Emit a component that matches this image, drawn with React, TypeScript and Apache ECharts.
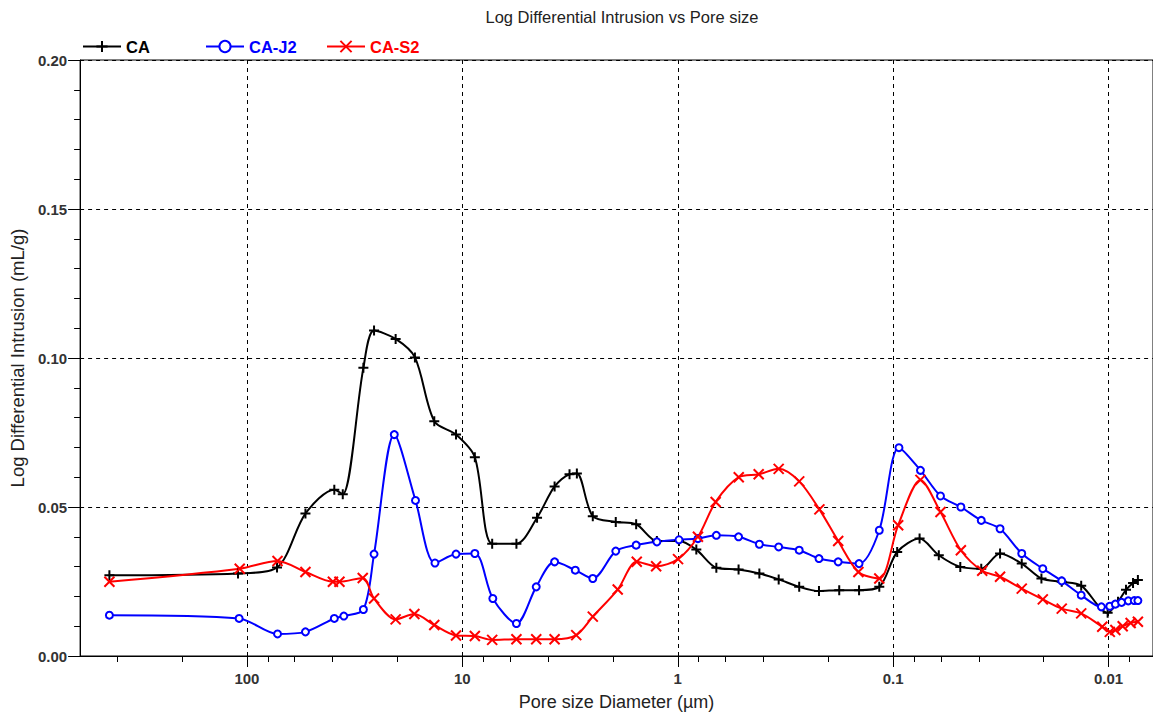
import React, { useEffect, useRef } from "react";
import * as echarts from "echarts";

// Pore size diameter (µm) and log differential intrusion (mL/g)
const caX = [435, 110, 72.5, 53.5, 39.3, 35.9, 28.8, 25.7, 20.4, 16.6, 13.5, 10.7, 8.75, 7.27, 5.61, 4.5, 3.73, 3.18, 2.94, 2.48, 1.94, 1.56, 1.25, 0.987, 0.82, 0.662, 0.522, 0.418, 0.34, 0.273, 0.221, 0.178, 0.144, 0.116, 0.0958, 0.0754, 0.0614, 0.0488, 0.039, 0.0319, 0.0253, 0.0205, 0.0165, 0.0134, 0.0101, 0.00904, 0.0083, 0.0077, 0.00731];
const caY = [0.0271, 0.0277, 0.0297, 0.0478, 0.0558, 0.0543, 0.0967, 0.1092, 0.1064, 0.1002, 0.0788, 0.0743, 0.0667, 0.0377, 0.0377, 0.0464, 0.0569, 0.061, 0.0612, 0.0469, 0.045, 0.0442, 0.0386, 0.0386, 0.0357, 0.0296, 0.029, 0.0277, 0.0257, 0.0232, 0.0218, 0.0221, 0.0221, 0.0232, 0.0349, 0.0394, 0.0338, 0.0299, 0.0293, 0.0344, 0.031, 0.026, 0.0249, 0.0236, 0.0145, 0.0182, 0.0222, 0.0245, 0.0255];

const j2X = [435, 108.7, 72.1, 53.5, 39.3, 35.5, 28.8, 25.7, 20.7, 16.5, 13.4, 10.7, 8.75, 7.22, 5.61, 4.54, 3.73, 2.99, 2.48, 1.94, 1.56, 1.25, 0.987, 0.806, 0.662, 0.522, 0.418, 0.34, 0.273, 0.221, 0.18, 0.144, 0.116, 0.094, 0.0747, 0.0603, 0.0485, 0.039, 0.0319, 0.0253, 0.0202, 0.0165, 0.0134, 0.0108, 0.00987, 0.0093, 0.0087, 0.0081, 0.0076, 0.00731];
const j2Y = [0.0137, 0.0126, 0.0074, 0.0081, 0.0126, 0.0134, 0.0156, 0.0342, 0.0743, 0.0522, 0.0312, 0.0342, 0.0344, 0.0193, 0.0109, 0.0232, 0.0316, 0.0288, 0.026, 0.0352, 0.0372, 0.0383, 0.039, 0.0394, 0.0405, 0.04, 0.0375, 0.0366, 0.0355, 0.0327, 0.0316, 0.031, 0.0422, 0.0699, 0.0623, 0.0537, 0.05, 0.0455, 0.0427, 0.0344, 0.0293, 0.0252, 0.0204, 0.0165, 0.0167, 0.0174, 0.018, 0.0185, 0.0186, 0.0186];

const s2X = [435, 108, 72.1, 53.5, 39.9, 37.2, 29.0, 25.7, 20.4, 16.7, 13.5, 10.7, 8.75, 7.27, 5.61, 4.54, 3.73, 2.96, 2.48, 1.9, 1.55, 1.26, 0.997, 0.806, 0.667, 0.521, 0.421, 0.34, 0.273, 0.22, 0.18, 0.145, 0.116, 0.0948, 0.0747, 0.0603, 0.0485, 0.0386, 0.0319, 0.0253, 0.0202, 0.0165, 0.0134, 0.0107, 0.00987, 0.0093, 0.0086, 0.0079, 0.00731];
const s2Y = [0.0249, 0.0293, 0.0319, 0.0282, 0.0249, 0.0249, 0.0262, 0.0193, 0.0123, 0.0141, 0.0104, 0.0069, 0.0067, 0.0054, 0.0056, 0.0056, 0.0056, 0.007, 0.0132, 0.0223, 0.0316, 0.0301, 0.0325, 0.04, 0.0517, 0.06, 0.061, 0.0628, 0.0586, 0.0492, 0.0386, 0.0282, 0.026, 0.0439, 0.0591, 0.0483, 0.0355, 0.0286, 0.0266, 0.0226, 0.019, 0.0159, 0.0143, 0.0098, 0.0081, 0.0087, 0.01, 0.0111, 0.0115];

const seriesNames = ["CA", "CA-J2", "CA-S2"];
const seriesColors = ["#000000", "#0000ff", "#ff0000"];
const xMinorTicks = [400, 200, 80, 60, 40, 20, 8, 6, 4, 2, 0.8, 0.6, 0.4, 0.2, 0.08, 0.06, 0.04, 0.02, 0.008];
const xMin = 0.00622;
const xMax = 595;
const yMax = 0.2;
const yInterval = 0.05;

const FONT = "'Liberation Sans', Arial, sans-serif";

const plusPath = "path://M5,0L5,10M0,5L10,5";
const crossPath = "path://M0,0L10,10M10,0L0,10";

const zip = (xs: number[], ys: number[]) => xs.map((x, i) => [x, ys[i]]);

const legendLefts = [77, 200, 321];

export default function App() {
  const ref = useRef<HTMLDivElement>(null);
  useEffect(() => {
    if (!ref.current) return;
    const chart = echarts.init(ref.current, null, { renderer: "svg" });
    const fmtX = (v: number) => String(+Number(v).toPrecision(2));
    chart.setOption({
      animation: false,
      backgroundColor: "#ffffff",
      title: {
        text: "Log Differential Intrusion vs Pore size",
        left: 617,
        top: 3,
        textAlign: "center",
        textStyle: { fontFamily: FONT, fontSize: 16.5, fontWeight: "normal", color: "#222" },
      },
      legend: seriesNames.map((n, i) => ({
        left: legendLefts[i],
        top: 33,
        itemWidth: 38,
        itemHeight: 14,
        textStyle: { fontFamily: FONT, fontSize: 16.5, fontWeight: "bold" },
        data: [{ name: n, textStyle: { color: seriesColors[i] } }],
      })),
      grid: {
        left: 78,
        top: 60,
        right: -2,
        bottom: 57,
        show: true,
        borderColor: "#000",
        borderWidth: 1,
        containLabel: false,
      },
      xAxis: [
        {
          type: "log",
          logBase: 10,
          inverse: true,
          min: xMin,
          max: xMax,
          name: "Pore size Diameter (µm)",
          nameLocation: "middle",
          nameGap: 37,
          nameTextStyle: { fontFamily: FONT, fontSize: 18, color: "#222" },
          axisLine: { lineStyle: { color: "#000", width: 1 } },
          axisTick: { length: 11, lineStyle: { color: "#000" } },
          axisLabel: {
            fontFamily: FONT,
            fontSize: 15,
            fontWeight: "bold",
            color: "#333",
            margin: 15,
            showMinLabel: false,
            showMaxLabel: false,
            formatter: fmtX,
          },
          splitLine: { show: true, lineStyle: { color: "#000", type: [4, 4], width: 1 } },
        },
        {
          type: "log",
          logBase: 10,
          inverse: true,
          min: xMin,
          max: xMax,
          position: "bottom",
          axisLine: { show: false },
          axisTick: { show: true, length: 6, customValues: xMinorTicks, lineStyle: { color: "#000" } },
          axisLabel: { show: false },
          splitLine: { show: false },
        },
      ],
      yAxis: {
        type: "value",
        min: 0,
        max: yMax,
        interval: yInterval,
        name: "Log Differential Intrusion (mL/g)",
        nameLocation: "middle",
        nameGap: 49,
        nameTextStyle: { fontFamily: FONT, fontSize: 18.5, color: "#222" },
        axisLine: { show: true, lineStyle: { color: "#000", width: 1 } },
        axisTick: { show: true, length: 12, lineStyle: { color: "#000" } },
        minorTick: { show: true, splitNumber: 5, length: 6, lineStyle: { color: "#000" } },
        axisLabel: {
          fontFamily: FONT,
          fontSize: 15,
          fontWeight: "bold",
          color: "#333",
          margin: 13,
          formatter: (v: number) => v.toFixed(2),
        },
        splitLine: { show: true, lineStyle: { color: "#000", type: [4, 4], width: 1 } },
      },
      series: [
        {
          name: "CA",
          type: "line",
          data: zip(caX, caY),
          smooth: 0.3,
          symbol: plusPath,
          symbolSize: 10,
          showAllSymbol: true,
          lineStyle: { color: seriesColors[0], width: 2 },
          itemStyle: { color: seriesColors[0], borderColor: seriesColors[0], borderWidth: 2 },
        },
        {
          name: "CA-J2",
          type: "line",
          data: zip(j2X, j2Y),
          smooth: 0.3,
          symbol: "emptyCircle",
          symbolSize: 7,
          showAllSymbol: true,
          lineStyle: { color: seriesColors[1], width: 2 },
          itemStyle: { color: seriesColors[1], borderColor: seriesColors[1], borderWidth: 2 },
        },
        {
          name: "CA-S2",
          type: "line",
          data: zip(s2X, s2Y),
          smooth: 0.3,
          symbol: crossPath,
          symbolSize: 10,
          showAllSymbol: true,
          lineStyle: { color: seriesColors[2], width: 2 },
          itemStyle: { color: seriesColors[2], borderColor: seriesColors[2], borderWidth: 2 },
        },
      ],
    });
    return () => chart.dispose();
  }, []);
  return (
    <div
      ref={ref}
      style={{ position: "absolute", left: 0, top: 0, width: 1153, height: 716, background: "#fff" }}
    />
  );
}
